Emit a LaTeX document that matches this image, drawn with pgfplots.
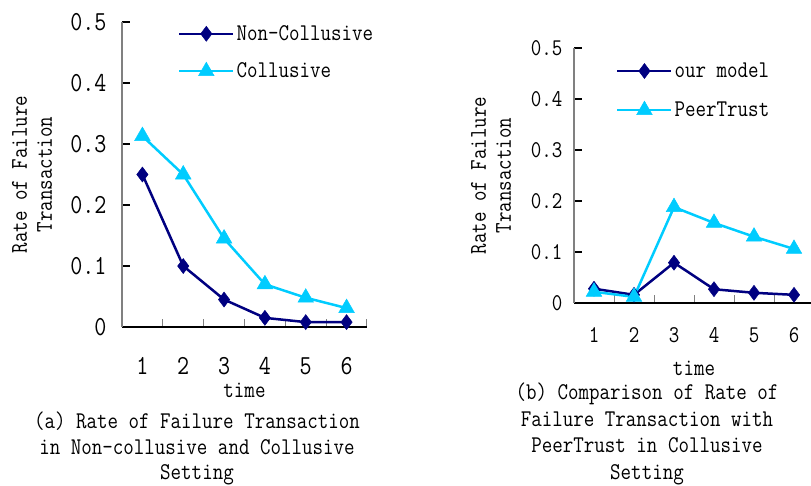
\documentclass[border=0pt]{standalone}
\usepackage{fontspec}
\setmonofont[FakeStretch=0.85]{Latin Modern Mono}
\usepackage{pgfplots}
\pgfplotsset{compat=1.18}
\definecolor{navyc}{RGB}{0,0,128}
\definecolor{cyanc}{RGB}{0,204,255}
\newcommand{\tf}{\fontsize{24}{25}\selectfont\ttfamily}
\pgfplotsset{
  common/.style={
    scale only axis, clip=false,
    axis lines=left,
    x axis line style={black,line width=1.5pt,-},
    y axis line style={gray,line width=1.2pt,-},
    xmin=0.5, xmax=6.5, ymin=0, ymax=0.5,
    xtick={1,...,6}, xticklabels={1,2,3,4,5,6},
    major x tick style={draw=none},
    minor xtick={0.5,1.5,...,6.5},
    minor x tick style={gray,line width=1pt},
    minor tick length=8pt,
    ytick={0,0.1,...,0.5}, yticklabels={0,0.1,0.2,0.3,0.4,0.5},
    major y tick style={black,line width=1.2pt},
    major tick length=8pt,
    tick align=inside,
    ylabel style={align=center, font=\tf},
    xlabel style={font=\tf},
    legend style={draw=none, fill=none, font=\tf,
      inner sep=0pt, anchor=west},
    legend cell align=left,
    legend image code/.code={\draw[mark repeat=2,mark phase=2,#1] plot coordinates {(0pt,0pt) (27pt,0pt) (54pt,0pt)};},
  },
  s1/.style={navyc, line width=2.5pt, mark=diamond*, mark size=7.5pt, mark options={solid,fill=navyc,line width=0.5pt}},
  s2/.style={cyanc, line width=2.5pt, mark=triangle*, mark size=9pt, mark options={solid,fill=cyanc,line width=0.5pt}},
}
\begin{document}
\begin{tikzpicture}[font=\ttfamily]
\useasboundingbox (0,0) rectangle (811pt,485pt);
% left chart
\begin{axis}[common,
  at={(122pt,158pt)}, anchor=south west,
  width=245pt, height=305pt,
  ticklabel style={font=\fontsize{27.5}{28}\selectfont\ttfamily},
  yticklabel style={xshift=-12pt},
  xticklabel style={yshift=-27pt},
  xlabel={time}, xlabel style={at={(axis description cs:0.5,-0.207)}, anchor=center},
  ylabel={Rate of Failure\\Transaction},
  ylabel style={at={(axis description cs:-0.367,0.5)}, anchor=center},
  legend style={at={(axis description cs:0.228,0.9)}, row sep=17pt},
]
\addplot[s1] coordinates {(1,0.25) (2,0.10) (3,0.045) (4,0.015) (5,0.008) (6,0.008)};
\addlegendentry{Non-Collusive}
\addplot[s2] coordinates {(1,0.313) (2,0.25) (3,0.145) (4,0.07) (5,0.048) (6,0.031)};
\addlegendentry{Collusive}
\end{axis}
% right chart
\begin{axis}[common,
  at={(574pt,182pt)}, anchor=south west,
  width=240pt, height=255pt,
  ticklabel style={font=\tf},
  yticklabel style={xshift=-8pt},
  xticklabel style={yshift=-21pt},
  xlabel={time}, xlabel style={at={(axis description cs:0.5,-0.255)}, anchor=center},
  ylabel={Rate of Failure\\Transaction},
  ylabel style={at={(axis description cs:-0.346,0.5)}, anchor=center},
  legend style={at={(axis description cs:0.175,0.833)}, row sep=19pt},
]
\addplot[s1] coordinates {(1,0.028) (2,0.016) (3,0.079) (4,0.027) (5,0.02) (6,0.016)};
\addlegendentry{our model}
\addplot[s2] coordinates {(1,0.022) (2,0.012) (3,0.188) (4,0.157) (5,0.13) (6,0.106)};
\addlegendentry{PeerTrust}
\end{axis}
% captions
\node[align=center, font=\fontsize{24}{25.5}\selectfont\ttfamily] at (197pt,485pt-448.5pt)
  {(a) Rate of Failure Transaction\\in Non-collusive and Collusive\\Setting};
\node[align=center, font=\fontsize{24}{26.5}\selectfont\ttfamily] at (647pt,485pt-434pt)
  {(b) Comparison of Rate of\\Failure Transaction with\\PeerTrust in Collusive\\Setting};
\end{tikzpicture}
\end{document}
